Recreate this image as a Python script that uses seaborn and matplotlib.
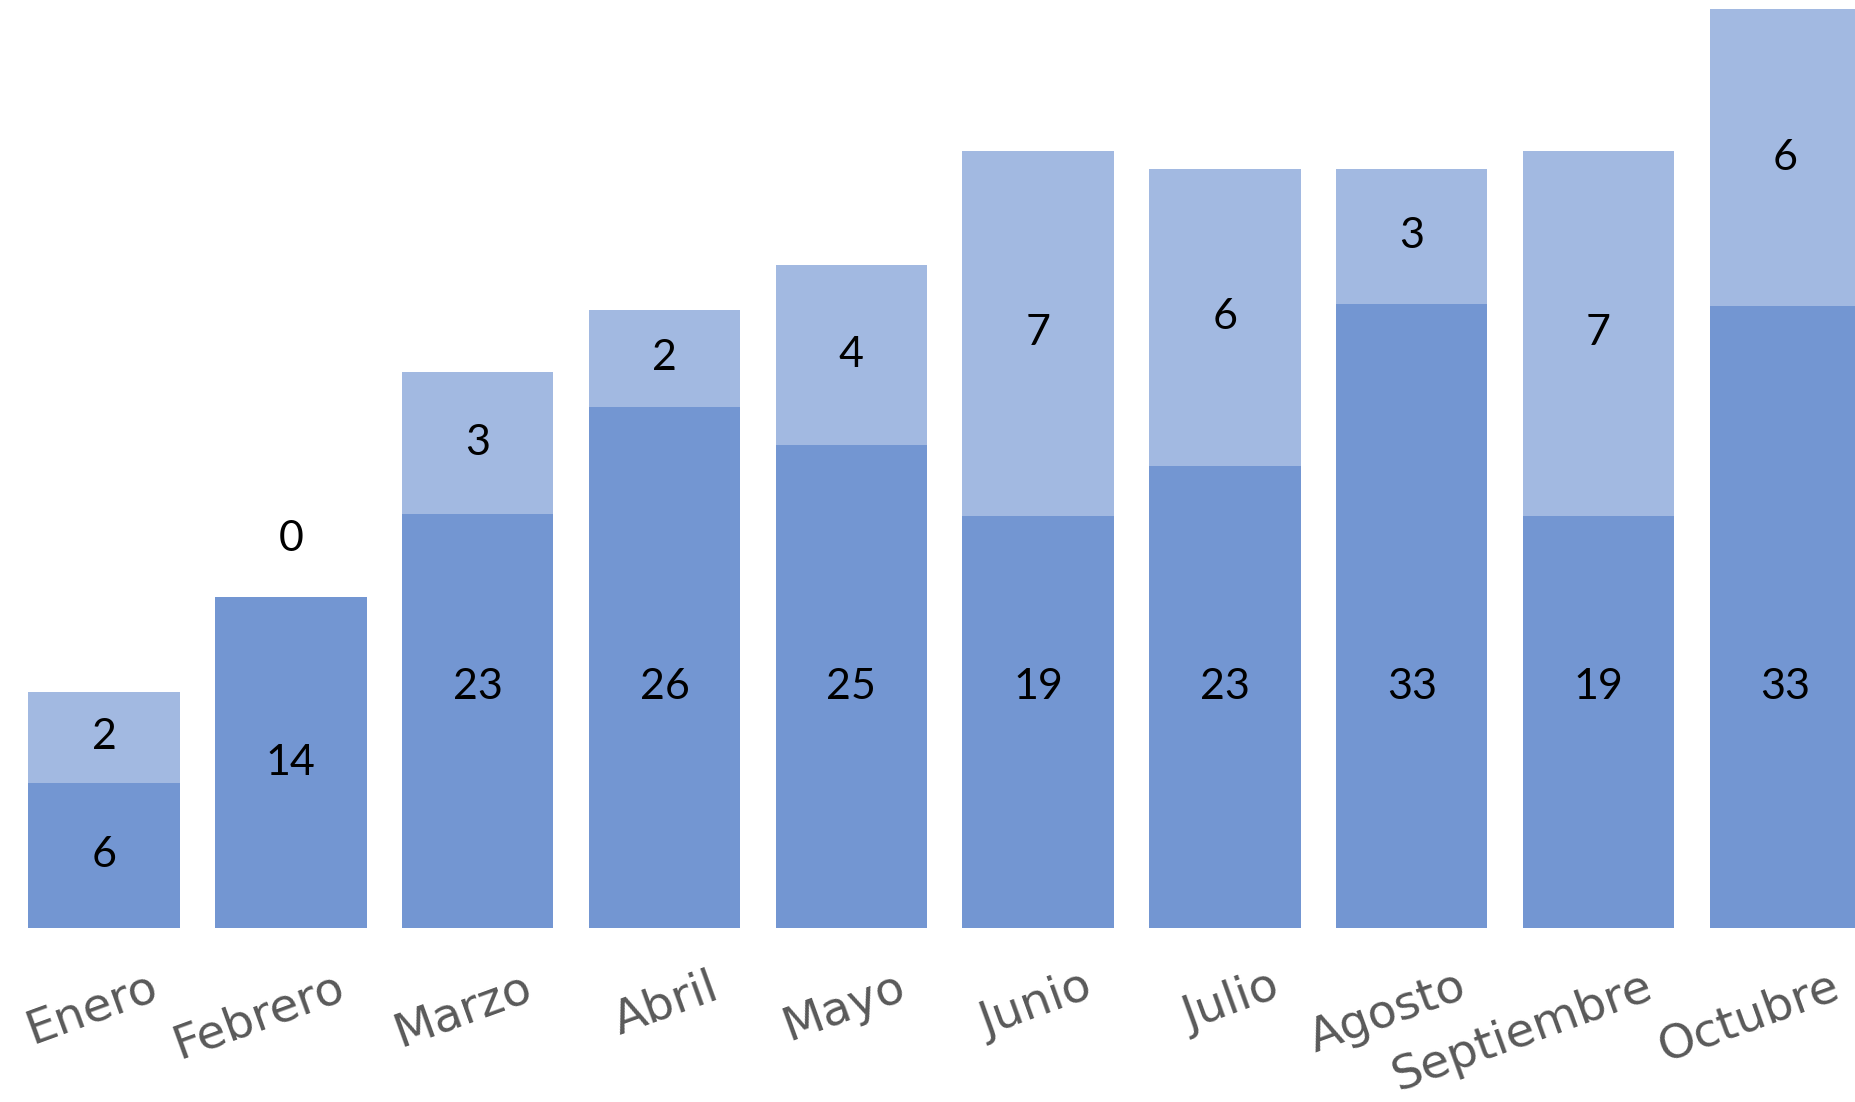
import numpy as np
import pandas as pd
import matplotlib.pyplot as plt
import matplotlib.transforms as mtransforms
import seaborn as sns

# meses y valores que muestran las etiquetas
meses = ["Enero", "Febrero", "Marzo", "Abril", "Mayo", "Junio",
         "Julio", "Agosto", "Septiembre", "Octubre"]
valor_base = [6, 14, 23, 26, 25, 19, 23, 33, 19, 33]
valor_extra = [2, 0, 3, 2, 4, 7, 6, 3, 7, 6]

# altura dibujada de cada tramo (no es proporcional al valor)
altura_base = [12.3, 28.0, 35.0, 44.1, 40.9, 34.9, 39.1, 52.8, 34.9, 52.6]
altura_extra = [7.7, 0.0, 12.0, 8.2, 15.2, 30.8, 25.1, 11.4, 30.8, 25.1]

df = pd.DataFrame({"mes": meses, "base": altura_base, "extra": altura_extra})
df["total"] = df["base"] + df["extra"]

oscuro = "#7396D2"
claro = "#A2B9E1"

sns.set_theme(style="white")
plt.rcParams['font.family'] = ['DejaVu Sans']

fig = plt.figure(figsize=(18.55, 11.02), dpi=100)
ax = fig.add_axes([0, 0.1577, 1, 0.8423])

sns.barplot(data=df, x="mes", y="total", color=claro, width=0.81,
            linewidth=0, saturation=1, ax=ax)
sns.barplot(data=df, x="mes", y="base", color=oscuro, width=0.81,
            linewidth=0, saturation=1, ax=ax)

etiqueta_font = dict(family="Lato", fontsize=31, color="black",
                     ha="center", va="center")
for i in range(len(meses)):
    b = altura_base[i]
    e = altura_extra[i]
    # etiqueta del tramo oscuro
    y_b = 20.4 if b >= 30 else b / 2
    ax.text(i, y_b, str(valor_base[i]), **etiqueta_font)
    # etiqueta del tramo claro
    y_e = b + e / 2 if e > 0 else b + 4.9
    ax.text(i, y_e, str(valor_extra[i]), **etiqueta_font)

ax.set_xlim(-0.557, 9.373)
ax.set_ylim(0, 78.5)
ax.set_xlabel("")
ax.set_ylabel("")
ax.set_yticks([])
sns.despine(ax=ax, left=True, bottom=True)
ax.tick_params(axis="x", length=0, pad=26, labelsize=34, labelcolor="#595959")
desplazar = mtransforms.ScaledTranslation(0.60, 0, fig.dpi_scale_trans)
for lab in ax.get_xticklabels():
    lab.set_rotation(20)
    lab.set_ha("right")
    lab.set_transform(lab.get_transform() + desplazar)

fig.savefig("out.png", dpi=100)
